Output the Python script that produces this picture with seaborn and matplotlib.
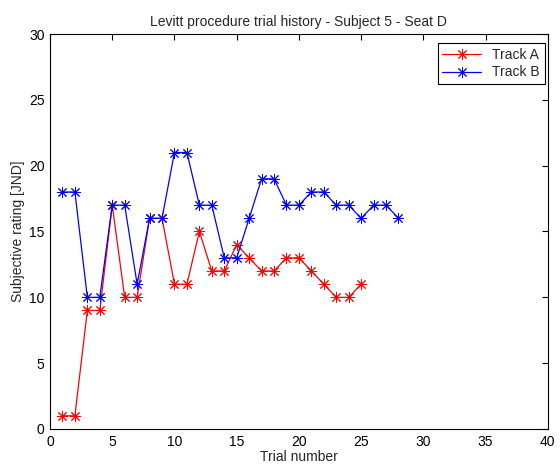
import numpy as np
import pandas as pd
import seaborn as sns
import matplotlib
matplotlib.use("Agg")
import matplotlib.pyplot as plt

# trial history
trials_a = list(range(1, 26))
rating_a = [1, 1, 9, 9, 17, 10, 10, 16, 16, 11, 11, 15, 12, 12, 14, 13, 12, 12, 13, 13, 12, 11, 10, 10, 11]
trials_b = list(range(1, 29))
rating_b = [18, 18, 10, 10, 17, 17, 11, 16, 16, 21, 21, 17, 17, 13, 13, 16, 19, 19, 17, 17, 18, 18, 17, 17, 16, 17, 17, 16]
track_names = ["Track A", "Track B"]
track_colors = ["#ff0000", "#0000ff"]

tracks = [
    pd.DataFrame({"trial": trials_a, "rating": rating_a}),
    pd.DataFrame({"trial": trials_b, "rating": rating_b}),
]

sns.set_style("white")
plt.rcParams["font.family"] = ["Liberation Sans", "DejaVu Sans"]
plt.rcParams["font.size"] = 10

fig = plt.figure(figsize=(5.6, 4.71), dpi=100)
ax = fig.add_axes([0.0893, 0.0892, 0.889, 0.8386])

for d, name, c in zip(tracks, track_names, track_colors):
    sns.lineplot(data=d, x="trial", y="rating", color=c, label=name,
                 marker=(8, 2, 0), markersize=8, markeredgewidth=0.7,
                 markeredgecolor=c, markerfacecolor=c, linewidth=0.9,
                 ax=ax, sort=False, estimator=None)

ax.set_xlim(0, 40)
ax.set_ylim(0, 30)
ax.set_xticks(np.arange(0, 41, 5))
ax.set_yticks(np.arange(0, 31, 5))
ax.tick_params(direction="in", length=4, width=0.8, top=True, right=True,
               labelsize=10, colors="black", pad=4)
for s in ax.spines.values():
    s.set_color("black")
    s.set_linewidth(0.8)

ax.set_title("Levitt procedure trial history - Subject 5 - Seat D", fontsize=10, pad=6)
ax.set_xlabel("Trial number", fontsize=10, labelpad=1)
ax.set_ylabel("Subjective rating [JND]", fontsize=10, labelpad=3)

leg = ax.legend(loc="upper right", bbox_to_anchor=(0.994, 0.977), fontsize=10,
                fancybox=False, edgecolor="black", framealpha=1, handlelength=2.8,
                borderaxespad=0, labelspacing=0.25, borderpad=0.35)
leg.get_frame().set_linewidth(0.8)

fig.savefig("out.png", dpi=100)
